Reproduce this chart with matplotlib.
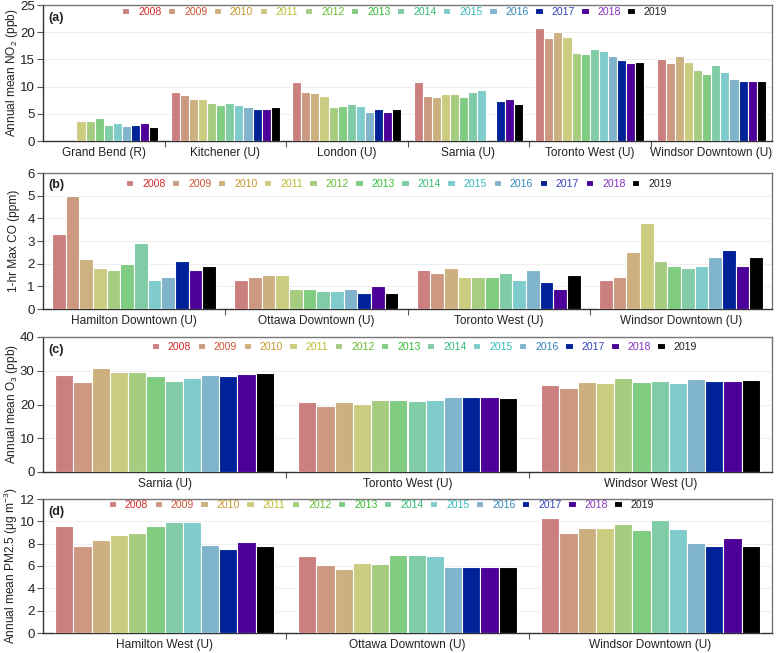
import numpy as np
import matplotlib
matplotlib.use("Agg")
import matplotlib.pyplot as plt

plt.rcParams['font.family'] = ['Liberation Sans', 'DejaVu Sans']
plt.rcParams['mathtext.fontset'] = 'custom'
plt.rcParams['mathtext.rm'] = 'Liberation Sans'
plt.rcParams['mathtext.it'] = 'Liberation Sans:italic'
plt.rcParams['mathtext.bf'] = 'Liberation Sans:bold'

years = ['2008', '2009', '2010', '2011', '2012', '2013', '2014', '2015',
         '2016', '2017', '2018', '2019']
bar_colors = ['#CC7F7F', '#CC9980', '#CCB080', '#CCCC80', '#A6CC80', '#80CC80',
              '#80CCA6', '#80CCCC', '#80B3CC', '#002299', '#4C0099', '#000000']
text_colors = ['#D42A2A', '#CC5533', '#C8962A', '#BBBB30', '#66BB33', '#33BB33',
               '#33BB77', '#33BBBB', '#3388BB', '#3344BB', '#8833BB', '#222222']

nan = np.nan
# (a) Annual mean NO2 (ppb)
no2_sites = ['Grand Bend (R)', 'Kitchener (U)', 'London (U)', 'Sarnia (U)',
             'Toronto West (U)', 'Windsor Downtown (U)']
no2_grand_bend = [nan, nan, nan, 3.6, 3.6, 4.3, 3.0, 3.4, 2.7, 3.0, 3.3, 2.5]
no2_kitchener = [9.0, 8.5, 7.65, 7.65, 7.0, 6.6, 6.9, 6.7, 6.2, 5.8, 5.8, 6.2]
no2_london = [10.8, 9.0, 8.8, 8.3, 6.2, 6.4, 6.85, 6.5, 5.4, 5.8, 5.4, 5.8]
no2_sarnia = [10.8, 8.2, 8.0, 8.6, 8.6, 8.1, 8.95, 9.3, nan, 7.3, 7.65, 6.8]
no2_toronto_west = [20.8, 19.0, 20.1, 19.1, 16.2, 16.05, 17.0, 16.5, 15.7, 14.9, 14.4, 14.6]
no2_windsor_dt = [15.1, 14.4, 15.6, 14.5, 13.1, 12.3, 13.95, 12.7, 11.4, 11.1, 11.05, 11.05]

# (b) 1-hr Max CO (ppm)
co_sites = ['Hamilton Downtown (U)', 'Ottawa Downtown (U)', 'Toronto West (U)',
            'Windsor Downtown (U)']
co_hamilton_dt = [3.3, 5.0, 2.2, 1.8, 1.7, 2.0, 2.9, 1.3, 1.4, 2.1, 1.7, 1.9]
co_ottawa_dt = [1.3, 1.4, 1.5, 1.5, 0.9, 0.9, 0.8, 0.8, 0.9, 0.7, 1.0, 0.7]
co_toronto_west = [1.7, 1.6, 1.8, 1.4, 1.4, 1.4, 1.6, 1.3, 1.7, 1.2, 0.9, 1.5]
co_windsor_dt = [1.3, 1.4, 2.5, 3.8, 2.1, 1.9, 1.8, 1.9, 2.3, 2.6, 1.9, 2.3]

# (c) Annual mean O3 (ppb)
o3_sites = ['Sarnia (U)', 'Toronto West (U)', 'Windsor West (U)']
o3_sarnia = [28.7, 26.6, 30.8, 29.7, 29.7, 28.5, 27.1, 27.8, 28.8, 28.4, 29.0, 29.2]
o3_toronto_west = [20.7, 19.5, 20.6, 20.1, 21.4, 21.4, 21.0, 21.2, 22.1, 22.1, 22.3, 21.8]
o3_windsor_west = [25.8, 24.9, 26.6, 26.3, 27.9, 26.6, 27.1, 26.4, 27.6, 26.9, 26.9, 27.2]

# (d) Annual mean PM2.5 (ug m-3)
pm_sites = ['Hamilton West (U)', 'Ottawa Downtown (U)', 'Windsor Downtown (U)']
pm_hamilton_west = [9.6, 7.8, 8.3, 8.8, 9.0, 9.6, 9.9, 9.9, 7.9, 7.5, 8.15, 7.8]
pm_ottawa_dt = [6.9, 6.1, 5.7, 6.3, 6.2, 7.0, 7.0, 6.9, 5.9, 5.9, 5.9, 5.9]
pm_windsor_dt = [10.3, 9.0, 9.4, 9.4, 9.8, 9.2, 10.1, 9.3, 8.1, 7.8, 8.5, 7.8]

panels = [
    dict(sites=no2_sites,
         data=[no2_grand_bend, no2_kitchener, no2_london, no2_sarnia,
               no2_toronto_west, no2_windsor_dt],
         ylabel='Annual mean NO$_2$ (ppb)', ylim=25, step=5, tag='(a)',
         rect=[43, 5, 729, 136], leg=(0.108, 0.95), tagy=0.905),
    dict(sites=co_sites,
         data=[co_hamilton_dt, co_ottawa_dt, co_toronto_west, co_windsor_dt],
         ylabel='1-hr Max CO (ppm)', ylim=6, step=1, tag='(b)',
         rect=[43, 173, 729, 136], leg=(0.114, 0.92), tagy=0.91),
    dict(sites=o3_sites,
         data=[o3_sarnia, o3_toronto_west, o3_windsor_west],
         ylabel='Annual mean O$_3$ (ppb)', ylim=40, step=10, tag='(c)',
         rect=[43, 337, 729, 135], leg=(0.149, 0.926), tagy=0.905),
    dict(sites=pm_sites,
         data=[pm_hamilton_west, pm_ottawa_dt, pm_windsor_dt],
         ylabel='Annual mean PM2.5 (μg m$^{-3}$)', ylim=12, step=2, tag='(d)',
         rect=[43, 499, 729, 134], leg=(0.090, 0.955), tagy=0.905),
]

W, H = 777, 653
fig = plt.figure(figsize=(W / 100, H / 100), dpi=100)
spine_col = '#555555'

for p in panels:
    x0, y0, w, h = p['rect']
    ax = fig.add_axes([x0 / W, 1 - (y0 + h) / H, w / W, h / H])
    n = len(p['sites'])
    slot = 0.9 / 12
    arr = np.array(p['data'], dtype=float)  # groups x years
    gx = np.arange(n)
    handles = []
    for j, yr in enumerate(years):
        bc = ax.bar(gx + (j - 5.5) * slot, arr[:, j], width=slot,
                    color=bar_colors[j], edgecolor='white', linewidth=0.8,
                    label=yr, zorder=3)
        handles.append(bc)
    ax.set_xlim(-0.5, n - 0.5)
    ax.set_ylim(0, p['ylim'])
    ticks = np.arange(0, p['ylim'] + 0.001, p['step'])
    ax.set_yticks(ticks)
    ax.set_yticklabels([f'{t:g}' for t in ticks], fontsize=9.5, color='#222222')
    for t in ticks[1:]:
        ax.axhline(t, color='#EEEEEE', linewidth=0.8, zorder=1)
    ax.set_xticks(gx)
    ax.set_xticklabels(p['sites'], fontsize=8.6, color='#222222')
    ax.set_xticks(np.arange(n - 1) + 0.5, minor=True)
    ax.tick_params(axis='x', which='major', length=0, pad=4)
    ax.tick_params(axis='x', which='minor', length=4, width=0.8, color=spine_col,
                   direction='out')
    ax.tick_params(axis='y', which='major', length=4, width=0.8, color=spine_col,
                   direction='out', pad=2)
    for s in ['left', 'bottom']:
        ax.spines[s].set_color('#333333')
        ax.spines[s].set_linewidth(1.0)
    for s in ['top', 'right']:
        ax.spines[s].set_color('#777777')
        ax.spines[s].set_linewidth(1.0)
    ax.set_ylabel(p['ylabel'], fontsize=8.6, color='#222222')
    ax.yaxis.set_label_coords(-0.031, 0.5)
    ax.text(0.008, p['tagy'], p['tag'], transform=ax.transAxes, fontsize=9,
            fontweight='bold', ha='left', va='center', color='#222222')
    leg = ax.legend(handles=handles, ncol=12, loc='center left',
                    bbox_to_anchor=p['leg'], frameon=False, fontsize=7.6,
                    handlelength=0.7, handleheight=0.55, handletextpad=0.85,
                    columnspacing=0.6, borderpad=0, borderaxespad=0)
    for t, c in zip(leg.get_texts(), text_colors):
        t.set_color(c)

fig.savefig('out.png', dpi=100)
